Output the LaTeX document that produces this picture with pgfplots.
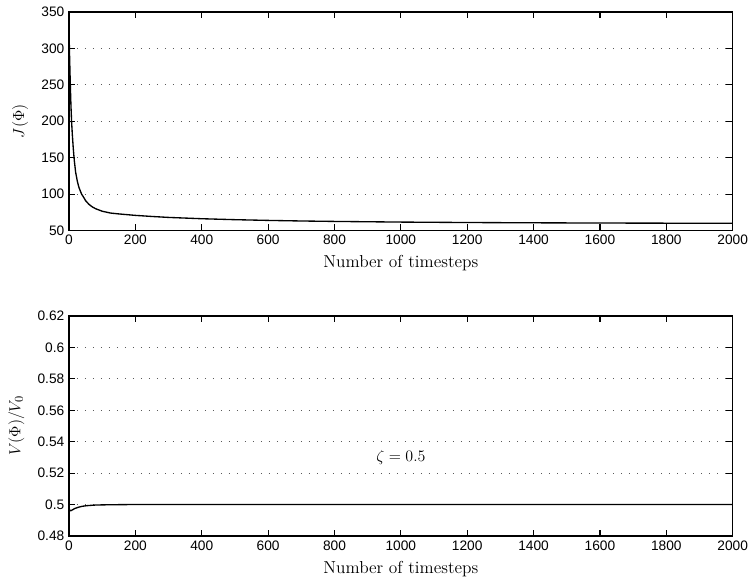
\documentclass[border=0pt]{standalone}
\usepackage{pgfplots}
\pgfplotsset{compat=1.18}
\usepackage{fontspec}
\newfontfamily\ticfont{Liberation Sans}
\begin{document}
\begin{tikzpicture}
\pgfplotsset{
  mystyle/.style={
    scale only axis,
    width=497.8pt,
    xmin=0, xmax=2000,
    xtick={0,200,...,2000},
    tick align=inside,
    tick pos=both,
    major tick length=4.8pt,
    tick style={line width=0.8pt, draw=black},
    axis line style={line width=0.9pt},
    ymajorgrids,
    major grid style={dash pattern=on 0.9pt off 5.1pt, gray!70!black, line width=0.7pt},
    ticklabel style={font=\ticfont\fontsize{10.3}{12}\selectfont},
    /pgf/number format/assume math mode=true,
    /pgf/number format/1000 sep={},
    scaled ticks=false,
    xlabel={Number of timesteps},
    label style={font=\fontsize{13}{15}\selectfont},
    xlabel style={yshift=-1pt},
    ylabel style={yshift=3pt},
    clip=true,
  }
}
\begin{axis}[mystyle, name=top, height=163.9pt, at={(0,0)}, anchor=south west,
  ymin=50, ymax=350, ytick={50,100,...,350},
  ylabel={$J(\Phi)$}]
\addplot[black, line width=1pt] coordinates {
(0,322) (1,305) (2,285) (4,250) (6,220) (8,198) (10,182) (13,162) (16,146) (20,130)
(25,118) (30,109) (38,100) (45,95) (50,91) (60,86) (70,82.5) (80,80) (100,76.5)
(125,74) (150,72.8) (200,70.8) (250,69.3) (300,68) (400,66.2) (500,64.9) (600,63.9)
(700,63.1) (800,62.5) (1000,61.6) (1200,61) (1400,60.6) (1600,60.3) (1800,60.1) (2000,60)
};
\end{axis}
\begin{axis}[mystyle, name=bot, height=165pt,
  at={(0,-64.1pt)}, anchor=north west,
  ymin=0.48, ymax=0.62, ytick={0.48,0.5,...,0.62},
  yticklabels={0.48,0.5,0.52,0.54,0.56,0.58,0.6,0.62},
  ylabel={$V(\Phi)/V_0$}]
\addplot[black, line width=1pt] coordinates {
(0,0.4978) (2,0.4965) (4,0.4961) (7,0.4962) (10,0.4966) (15,0.4972) (20,0.4977)
(30,0.4984) (40,0.4989) (50,0.4992) (60,0.4994) (80,0.4997) (100,0.4998) (130,0.4999)
(180,0.5) (400,0.5) (800,0.5) (1200,0.5) (1600,0.5) (2000,0.5)
};
\node[font=\fontsize{13}{15}\selectfont] at (axis cs:1000,0.53) {$\zeta=0.5$};
\end{axis}
\pgfresetboundingbox
\useasboundingbox (-51.75pt,-262.9pt) rectangle (511.5pt,172.9pt);
\end{tikzpicture}
\end{document}
